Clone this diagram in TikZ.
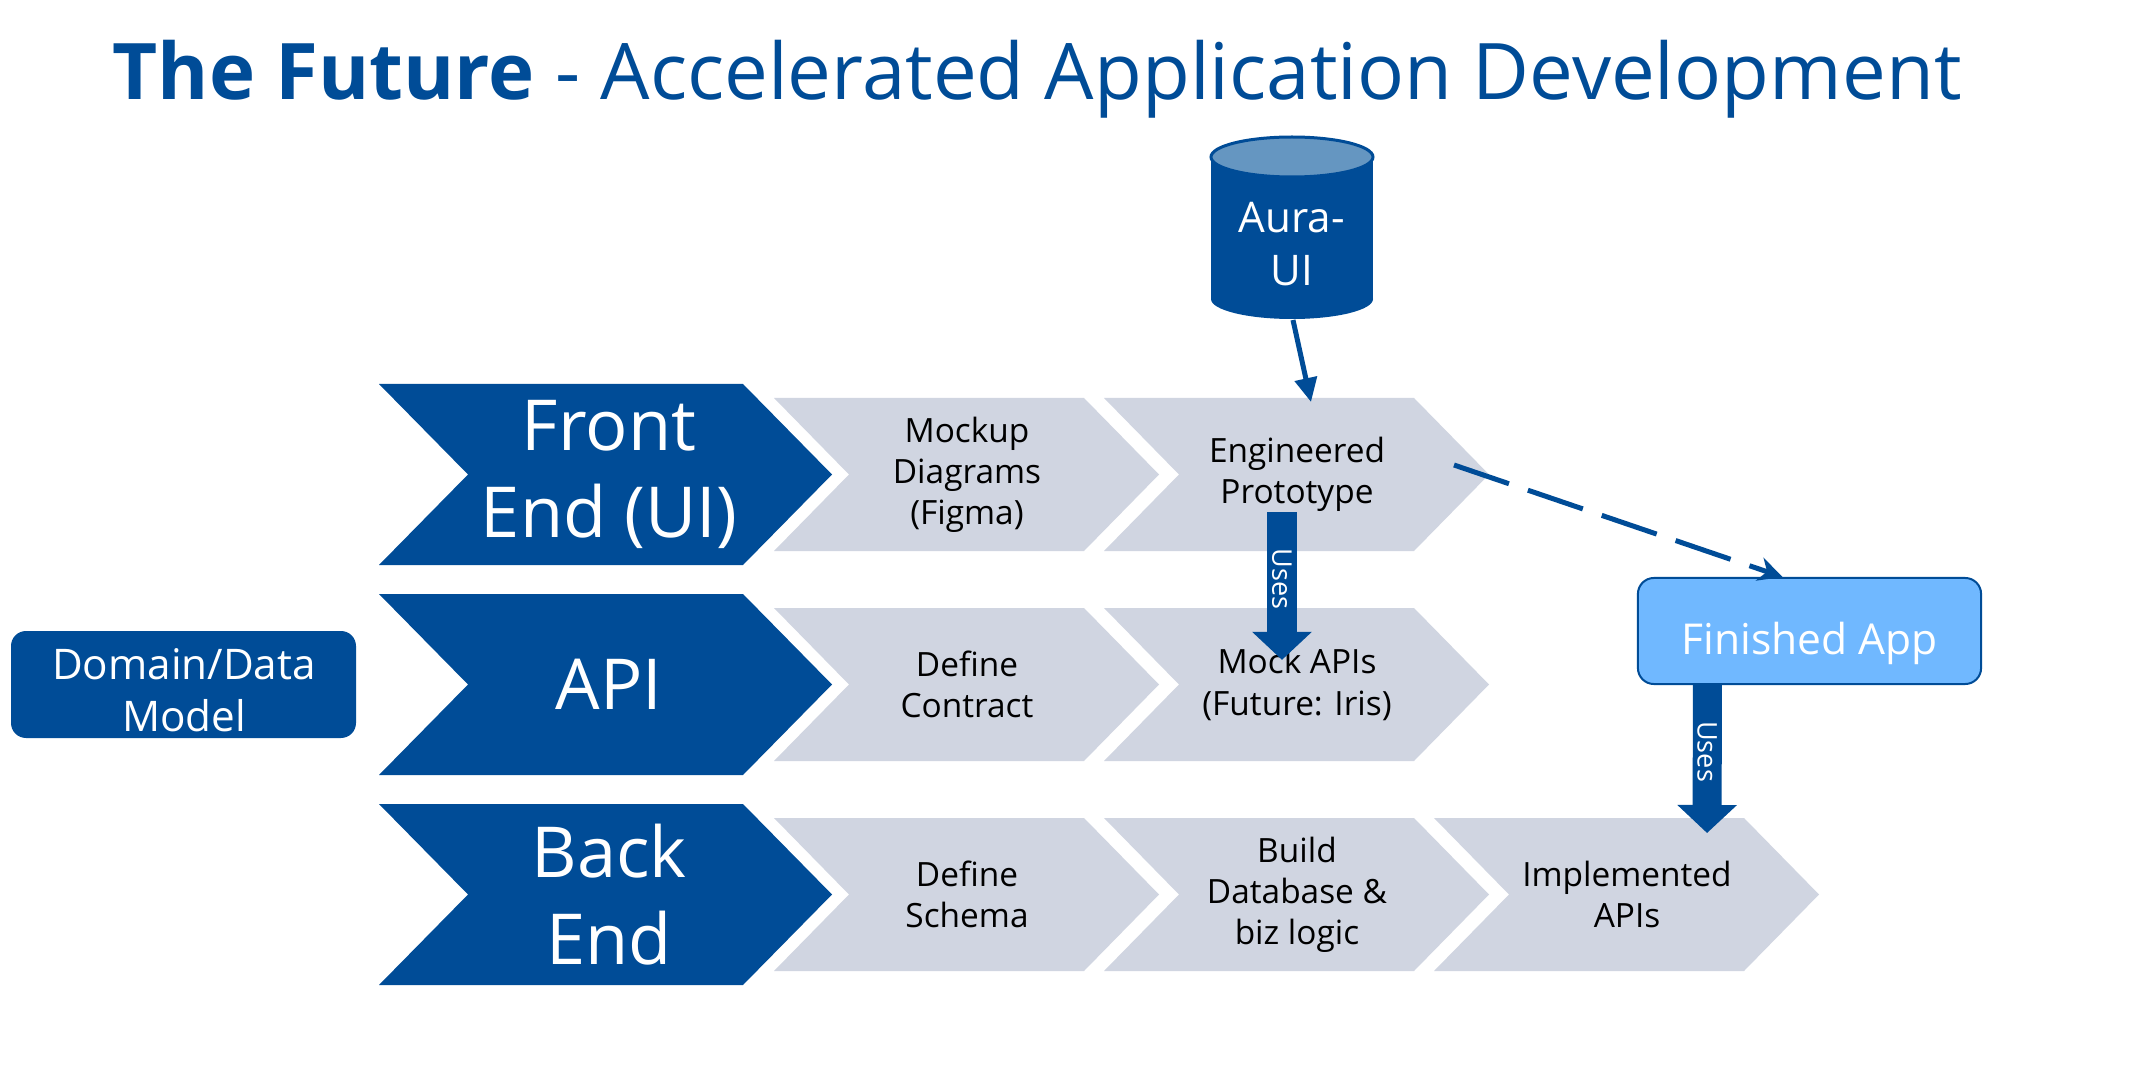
\documentclass[tikz,border=0pt]{standalone}
\usepackage{fontspec}
\setmainfont{Open Sans}
\usetikzlibrary{arrows.meta}

\definecolor{navy}{RGB}{0,76,151}
\definecolor{stage}{RGB}{208,213,225}
\definecolor{appblue}{RGB}{112,184,255}
\definecolor{lidblue}{RGB}{101,150,193}

\begin{document}
\begin{tikzpicture}[x=0.01cm, y=-0.01cm,
    lead/.style={text=white, align=center, inner sep=0pt, font=\fontsize{20}{24.6}\selectfont},
    stagetext/.style={text=black, align=center, inner sep=0pt, font=\fontsize{9.5}{11.7}\selectfont},
    usesarrow/.style={navy, line width=2.9mm, -{Triangle[length=2.8mm, width=5.8mm]}},
    useslabel/.style={text=white, rotate=-90, inner sep=0pt, font=\fontsize{7.7}{9}\selectfont}]

    % 0. Canvas
    \useasboundingbox (0,0) rectangle (2138,1082);
    \fill[white] (0,0) rectangle (2138,1082);

    % 1. Title
    \node[anchor=base west, inner sep=0pt, text=navy, font=\fontsize{22.2}{26}\selectfont] (title) at (112,100)
        {\textbf{The Future} - Accelerated Application Development};

    % 2. Lead chevrons (one per row)
    \foreach \c/\lbl/\nm in {474.5/{Front\\End (UI)}/fe, 684.5/{API}/api, 894.5/{Back\\End}/be} {
        \fill[navy] (379,\c-90.5) -- (743,\c-90.5) -- (832,\c) -- (743,\c+90.5) -- (379,\c+90.5) -- (468,\c) -- cycle;
        \node[lead] (\nm) at (609,\c) {\lbl};
    }

    % 3. Stage chevrons
    \foreach \L/\c/\lbl/\nm in {774/474.5/{Mockup\\Diagrams\\(Figma)}/mockup,
                                1104/474.5/{Engineered\\Prototype}/proto,
                                774/684.5/{Define\\Contract}/contract,
                                1104/684.5/{Mock APIs\\(Future: Iris)}/mock,
                                774/894.5/{Define\\Schema}/schema,
                                1104/894.5/{Build\\Database \&\\biz logic}/build,
                                1434/894.5/{Implemented\\APIs}/impl} {
        \fill[stage] (\L,\c-76.5) -- (\L+310,\c-76.5) -- (\L+385,\c) -- (\L+310,\c+76.5) -- (\L,\c+76.5) -- (\L+75,\c) -- cycle;
        \coordinate (\nm-top) at (\L+192,\c-76.5);
        \node[stagetext] (\nm) at (\L+193,\c) {\lbl};
    }

    % 4. Aura-UI store
    \fill[navy] (1211,157) rectangle (1373,299);
    \fill[navy] (1292,299) ellipse [x radius=81, y radius=20];
    \filldraw[fill=lidblue, draw=navy, line width=0.3mm] (1292,157) ellipse [x radius=81, y radius=20];
    \node[text=white, align=center, inner sep=0pt, font=\fontsize{12}{15}\selectfont] (aura) at (1292,244) {Aura-\\UI};
    \coordinate (aura-base) at (1293,320);

    % 5. Side boxes
    \fill[navy, rounded corners=1.5mm] (11,631) rectangle (356,738);
    \node[text=white, align=center, inner sep=0pt, font=\fontsize{12}{14.8}\selectfont] (domain) at (184,690) {Domain/Data\\Model};
    \node[fill=appblue, draw=navy, line width=0.2mm, rounded corners=1.6mm, minimum width=3.43cm, minimum height=1.06cm,
          text height=13.4pt, text depth=0pt, text=white, font=\fontsize{12.1}{15}\selectfont] (app) at (1809.5,631) {Finished App};

    % 6. Connectors
    \draw[navy, line width=0.5mm, -{Triangle[length=2.4mm, width=2.2mm]}] (aura-base) -- ([xshift=0.15cm, yshift=-0.04cm]proto-top);
    \coordinate (proto-out) at (1454,465);
    \draw[navy, line width=0.5mm, dash pattern=on 5.8mm off 2mm, -{Stealth[length=2.4mm, width=2.4mm]}]
        (proto-out) -- ([xshift=-0.27cm]app.north);
    \draw[usesarrow] ([xshift=-0.15cm]proto.south) -- ([xshift=-0.15cm, yshift=-0.12cm]mock.north)
        node[useslabel, pos=0.45] {Uses};
    \draw[usesarrow] ([xshift=-1.02cm]app.south) -- ([xshift=0.81cm, yshift=-0.15cm]impl-top)
        node[useslabel, pos=0.45] {Uses};

\end{tikzpicture}
\end{document}
